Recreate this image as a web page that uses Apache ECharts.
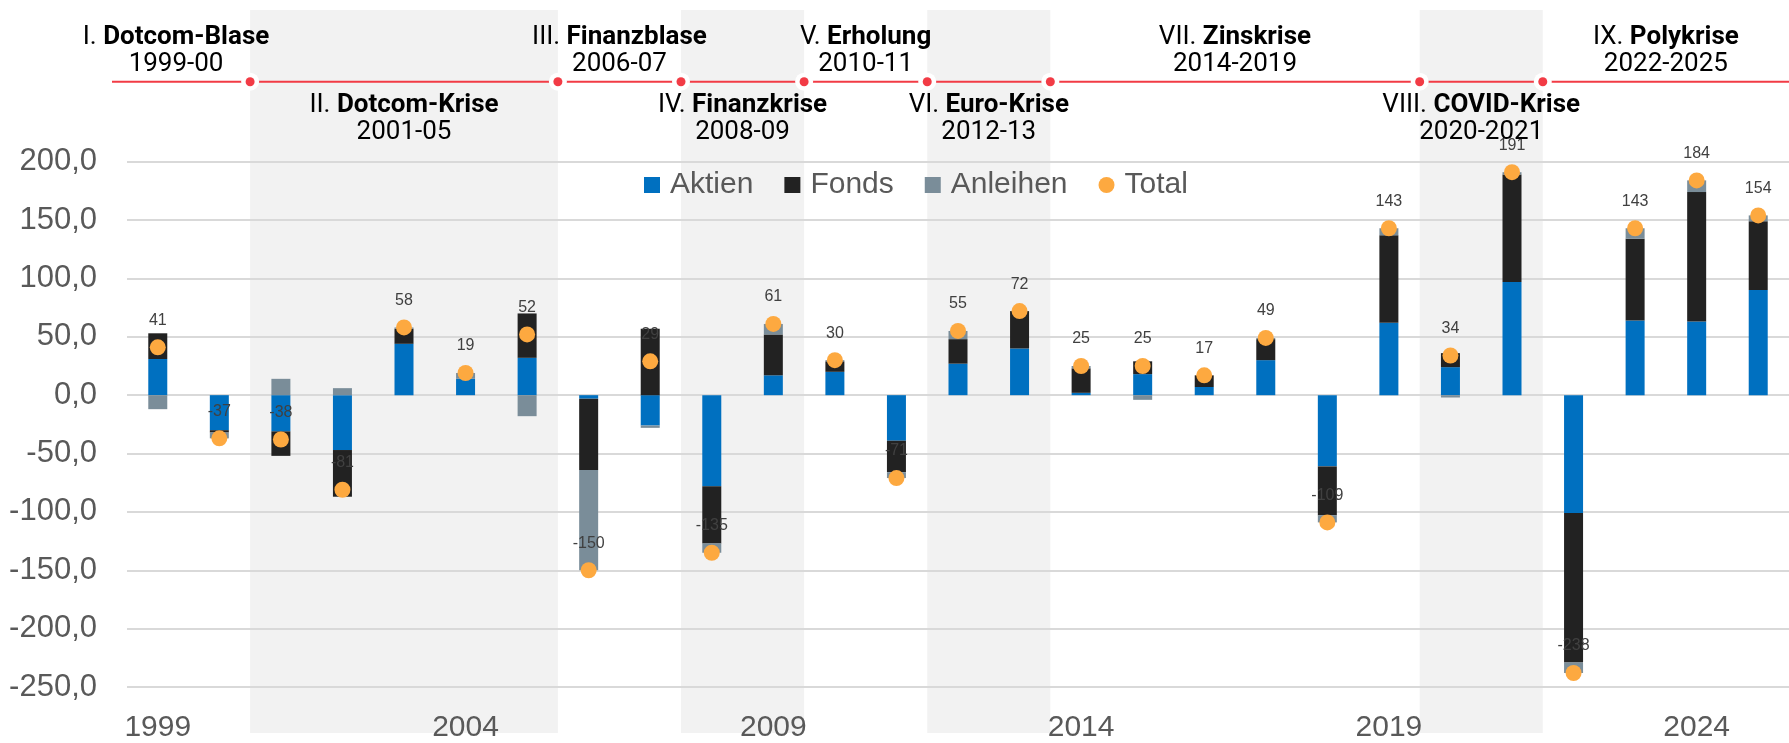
<!DOCTYPE html>
<html><head><meta charset="utf-8">
<script src="https://cdn.jsdelivr.net/npm/echarts@6/dist/echarts.min.js"></script>
<style>html,body{margin:0;padding:0;background:#fff}#c{width:1789px;height:743px}</style>
</head><body><div id="c"></div>
<script>
const years = ['1999','2000','2001','2002','2003','2004','2005','2006','2007','2008','2009','2010','2011','2012','2013','2014','2015','2016','2017','2018','2019','2020','2021','2022','2023','2024','2025'];
const aktien   = [31,-30,-31,-47,44,14,32,-3,-26,-78,17,20,-39,27,40,2,18,7,30,-61,62,24,97,-101,64,63,90];
const fonds    = [22,-2,-21,-40,13,0,38,-61,57,-49,35,9,-27,21,32,21,11,10,18,-42,75,12,92,-128,70,111,59];
const anleihen = [-12,-5,14,6,1,5,-18,-86,-2,-8,9,1,-5,7,0,2,-4,0,1,-6,6,-2,2,-9,9,10,5];
const total    = [41,-37,-38,-81,58,19,52,-150,29,-135,61,30,-71,55,72,25,25,17,49,-109,143,34,191,-238,143,184,154];
const seriesNames = ['Aktien','Fonds','Anleihen','Total'];
const phases = [
  {num:'I.',    name:'Dotcom-Blase', range:'1999-00',   from:'1999', to:'2000', row:0, shade:false},
  {num:'II.',   name:'Dotcom-Krise', range:'2001-05',   from:'2001', to:'2005', row:1, shade:true},
  {num:'III.',  name:'Finanzblase',  range:'2006-07',   from:'2006', to:'2007', row:0, shade:false},
  {num:'IV.',   name:'Finanzkrise',  range:'2008-09',   from:'2008', to:'2009', row:1, shade:true},
  {num:'V.',    name:'Erholung',     range:'2010-11',   from:'2010', to:'2011', row:0, shade:false},
  {num:'VI.',   name:'Euro-Krise',   range:'2012-13',   from:'2012', to:'2013', row:1, shade:true},
  {num:'VII.',  name:'Zinskrise',    range:'2014-2019', from:'2014', to:'2019', row:0, shade:false},
  {num:'VIII.', name:'COVID-Krise',  range:'2020-2021', from:'2020', to:'2021', row:1, shade:true},
  {num:'IX.',   name:'Polykrise',    range:'2022-2025', from:'2022', to:'2025', row:0, shade:false}
];

const FONT = 'Liberation Sans, Arial, sans-serif';
const colors = {Aktien:'#0070c0', Fonds:'#222222', Anleihen:'#7a8d99', Total:'#fda940'};

const barSeries = (name, data) => ({
  name, type:'bar', stack:'s', data, barWidth:19,
  itemStyle:{color:colors[name]}, z:2
});

const option = {
  animation:false,
  backgroundColor:'#fff',
  grid:{left:127, right:-6, top:161.7, bottom:52.6, containLabel:false},
  legend:{
    data:[{name:'Aktien',icon:'rect'},{name:'Fonds',icon:'rect'},{name:'Anleihen',icon:'rect'},{name:'Total',icon:'circle'}],
    left:639, top:165, itemWidth:16, itemHeight:16, itemGap:31,
    textStyle:{fontSize:30, color:'#595959', fontFamily:FONT, padding:[0,0,0,5]}
  },
  xAxis:{
    type:'category', data:years, position:'bottom',
    axisLine:{show:false, onZero:false}, axisTick:{show:false},
    axisLabel:{interval:4, fontSize:30, color:'#595959', fontFamily:FONT, margin:26},
    splitLine:{show:false}
  },
  yAxis:{
    type:'value', min:-250, max:200, interval:50,
    axisLine:{show:false}, axisTick:{show:false},
    axisLabel:{fontSize:31, color:'#595959', fontFamily:FONT, margin:30,
      formatter:v=>v.toFixed(1).replace('.',',')},
    splitLine:{lineStyle:{color:'#d9d9d9', width:2}}
  },
  series:[
    barSeries('Aktien', aktien),
    barSeries('Fonds', fonds),
    barSeries('Anleihen', anleihen),
    {name:'Total', type:'scatter', data:total, symbol:'circle', symbolSize:16, z:5,
      itemStyle:{color:colors.Total, opacity:1},
      label:{show:true, position:'inside', offset:[0,-27], fontSize:16, color:'#404040', fontFamily:FONT,
        formatter:p=>String(p.value)}}
  ]
};

const chart = echarts.init(document.getElementById('c'));
chart.setOption(option);

// decorations derived from the category axis
const cx = i => chart.convertToPixel({xAxisIndex:0}, i);
const bw = cx(1) - cx(0);
const edge = i => cx(i) - bw/2;
const W = chart.getWidth();
const lineY = 81.7, lineStart = 112, RED = '#f23b45';
const idx = y => years.indexOf(y);
const g = [];
phases.forEach(p => {
  if (p.shade) {
    const x0 = edge(idx(p.from)), x1 = edge(idx(p.to)+1);
    g.push({type:'rect', z:-100, silent:true, shape:{x:x0, y:10, width:x1-x0, height:723}, style:{fill:'#f2f2f2'}});
  }
});
g.push({type:'line', z:10, shape:{x1:lineStart, y1:lineY, x2:W, y2:lineY}, style:{stroke:RED, lineWidth:2}});
phases.forEach((p,i) => {
  const left = i===0 ? lineStart - 10 : edge(idx(p.from));
  const right = i===phases.length-1 ? W : edge(idx(p.to)+1);
  const c = (left+right)/2;
  const y1 = p.row===0 ? 37 : 105, y2 = p.row===0 ? 64 : 132;
  g.push({type:'text', z:11, x:c, y:y1, style:{
    text:'{n|'+p.num+' }{b|'+p.name+'}', align:'center', verticalAlign:'middle',
    fontFamily:'Roboto', fontSize:26, fill:'#000',
    rich:{n:{fontFamily:'Roboto', fontSize:26, fontWeight:'normal', fill:'#000'},
          b:{fontFamily:'Roboto', fontSize:26, fontWeight:'bold', fill:'#000'}}}});
  g.push({type:'text', z:11, x:c, y:y2, style:{text:p.range, align:'center', verticalAlign:'middle',
    fontFamily:'Roboto', fontSize:26, fill:'#000'}});
  if (i>0) {
    g.push({type:'circle', z:12, shape:{cx:left, cy:lineY, r:9}, style:{fill:'#fff'}});
    g.push({type:'circle', z:13, shape:{cx:left, cy:lineY, r:4.5}, style:{fill:RED}});
  }
});
chart.setOption({graphic:g});
</script></body></html>
